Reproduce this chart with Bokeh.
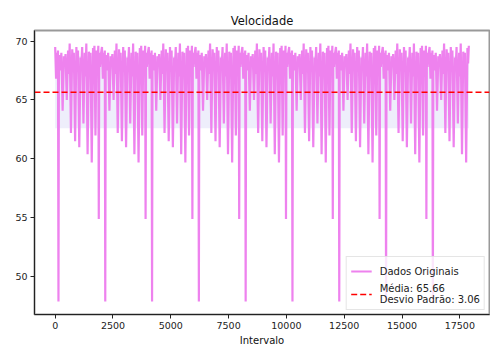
import numpy as np
from bokeh.plotting import figure
from bokeh.models import Range1d, Legend, LegendItem, FixedTicker
from bokeh.embed import file_html
from bokeh.resources import INLINE

# ---- data ----
TITLE = "Velocidade"
X_LABEL = "Intervalo"
X_TICKS = [0, 2500, 5000, 7500, 10000, 12500, 15000, 17500]
Y_TICKS = [50, 55, 60, 65, 70]
MEAN = 65.66
STD = 3.06
LABEL_DATA = "Dados Originais"
LABEL_MEAN = "Média: 65.66\nDesvio Padrão: 3.06"

# the series repeats one driving cycle; one cycle,
# offsets measured from the deep dip (47.9) that opens each cycle
FIRST_DIP = 142
CYCLE_LEN = 2024
LAST_SAMPLE = 17890
CYCLE_OFFSETS = [-20, 0, 20, 72,
                 125, 180, 235, 270,
                 305, 360, 415, 450,
                 485, 540, 595, 630,
                 665, 720, 775, 810,
                 845, 900, 955, 990,
                 1025, 1080, 1135, 1170,
                 1205, 1260, 1315, 1350,
                 1385, 1440, 1495, 1525,
                 1555, 1600, 1645, 1685,
                 1724, 1744, 1764, 1797,
                 1830, 1882, 1920, 1960, 1982]
CYCLE_VALUES = [69.2, 47.9, 68.8, 67.5,
                69.0, 64.1, 68.7, 67.8,
                68.9, 65.0, 69.2, 67.2,
                69.8, 62.2, 69.3, 68.0,
                69.0, 61.5, 69.5, 67.4,
                69.2, 61.0, 68.6, 67.9,
                69.5, 63.0, 69.0, 67.0,
                69.8, 60.4, 69.1, 67.6,
                69.0, 59.7, 69.4, 68.1,
                69.6, 62.0, 69.2, 67.5,
                69.6, 54.9, 69.0, 67.8,
                68.8, 69.5, 66.8, 69.0, 67.6]

xs, ys = [], []
for c in range(-1, 9):
    base = FIRST_DIP + c * CYCLE_LEN
    for o, v in zip(CYCLE_OFFSETS, CYCLE_VALUES):
        x = base + o
        if 0 <= x <= LAST_SAMPLE:
            xs.append(x)
            ys.append(v)
xs = np.array(xs, dtype=float)
ys = np.array(ys, dtype=float)

x_min, x_max = xs.min(), xs.max()
xpad = (x_max - x_min) * 0.05
y_min, y_max = ys.min(), ys.max()
ypad = (y_max - y_min) * 0.05

FONT = "DejaVu Sans"

p = figure(width=490, height=349, output_backend="svg", toolbar_location=None,
           x_range=Range1d(x_min - xpad, x_max + xpad),
           y_range=Range1d(y_min - ypad, y_max + ypad),
           min_border_left=34, min_border_right=1, min_border_top=30,
           min_border_bottom=35)
p.background_fill_color = "white"
p.border_fill_color = "white"
p.outline_line_color = "#999999"
p.outline_line_width = 2
p.xgrid.visible = False
p.ygrid.visible = False

p.title.text = TITLE
p.title.align = "center"
p.title.text_font = FONT
p.title.text_font_size = "11.5px"
p.title.text_font_style = "normal"
p.title.text_color = "#111111"
p.title.standoff = 6

for ax in (p.xaxis[0], p.yaxis[0]):
    ax.axis_line_color = "#222222"
    ax.major_tick_line_color = "#222222"
    ax.major_tick_out = 4
    ax.major_tick_in = 0
    ax.minor_tick_out = 0
    ax.minor_tick_in = 0
    ax.major_label_text_font = FONT
    ax.major_label_text_font_size = "9.5px"
    ax.major_label_text_color = "#222222"
    ax.major_label_standoff = 3
p.xaxis.ticker = FixedTicker(ticks=X_TICKS)
p.yaxis.ticker = FixedTicker(ticks=Y_TICKS)
p.xaxis.axis_label = X_LABEL
p.xaxis.axis_label_text_font = FONT
p.xaxis.axis_label_text_font_size = "10px"
p.xaxis.axis_label_text_font_style = "normal"
p.xaxis.axis_label_text_color = "#111111"
p.xaxis.axis_label_standoff = 3

# std band
p.varea(x=[x_min, x_max], y1=[MEAN - STD] * 2, y2=[MEAN + STD] * 2,
        fill_color="#7070e0", fill_alpha=0.12)

r_data = p.line(xs, ys, line_color="#ee82ee", line_width=2.2)
r_mean = p.line([x_min - xpad, x_max + xpad], [MEAN, MEAN], line_color="#ff0000",
                line_width=1.5, line_dash="6 3")

legend = Legend(items=[LegendItem(label=LABEL_DATA, renderers=[r_data]),
                       LegendItem(label=LABEL_MEAN, renderers=[r_mean])],
                location="bottom_right")
legend.label_text_font = FONT
legend.label_text_font_size = "10px"
legend.label_text_color = "#222222"
legend.glyph_width = 21
legend.label_standoff = 8
legend.padding = 4
legend.spacing = 2
legend.margin = 4
legend.background_fill_alpha = 0.8
legend.border_line_color = "#cccccc"
legend.border_line_width = 1
p.add_layout(legend)

open("out.html", "w").write(file_html(p, INLINE))
